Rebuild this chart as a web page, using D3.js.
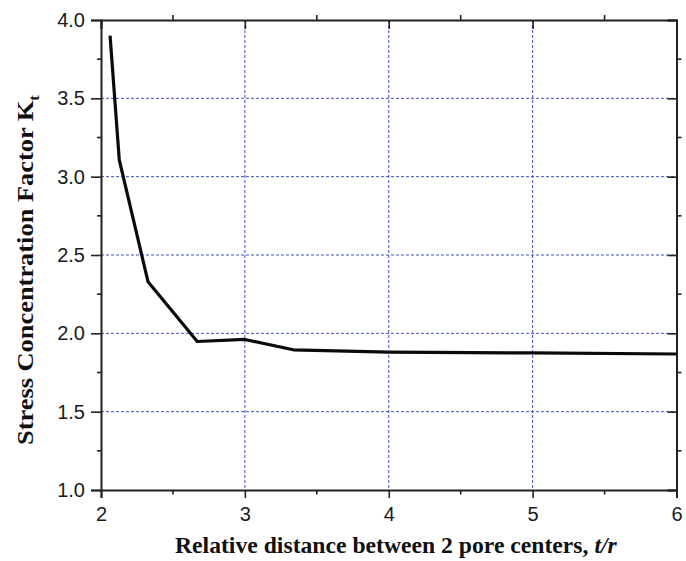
<!DOCTYPE html>
<html>
<head>
<meta charset="utf-8">
<script src="https://cdn.jsdelivr.net/npm/d3@7/dist/d3.min.js"></script>
<style>
  body { margin: 0; background: #fff; }
  svg { display: block; }
</style>
</head>
<body>
<svg id="chart" width="686" height="561"></svg>
<script>
// Stress concentration factor vs. relative pore spacing
const ratioTR = [2.063, 2.127, 2.327, 2.669, 3.0, 3.336, 4.0, 5.0, 6.0];
const factorKt = [3.90, 3.107, 2.329, 1.948, 1.961, 1.895, 1.880, 1.875, 1.868];
const xTicks = [2, 3, 4, 5, 6];
const yTicks = [1.0, 1.5, 2.0, 2.5, 3.0, 3.5, 4.0];

const svg = d3.select("#chart");
const m = { left: 101, right: 676.5, top: 20, bottom: 490 };

const x = d3.scaleLinear().domain([2, 6]).range([m.left, m.right]);
const y = d3.scaleLinear().domain([1, 4]).range([m.bottom, m.top]);

const gridColor = "#3d4fc4";
const axisColor = "#222";

// dashed grid at interior major ticks
svg.append("g").selectAll("line.gx")
  .data(xTicks.filter(d => d > 2 && d < 6)).join("line")
  .attr("x1", d => x(d)).attr("x2", d => x(d))
  .attr("y1", m.top).attr("y2", m.bottom)
  .attr("stroke", gridColor).attr("stroke-width", 1)
  .attr("stroke-dasharray", "3,2");
svg.append("g").selectAll("line.gy")
  .data(yTicks.filter(d => d > 1 && d < 4)).join("line")
  .attr("x1", m.left).attr("x2", m.right)
  .attr("y1", d => y(d)).attr("y2", d => y(d))
  .attr("stroke", gridColor).attr("stroke-width", 1)
  .attr("stroke-dasharray", "3,2");

const xMinor = d3.range(2.5, 6, 1);
const yMinor = d3.range(1.25, 4, 0.5);

// bottom axis: outward ticks
const axB = svg.append("g").attr("transform", `translate(0,${m.bottom})`)
  .call(d3.axisBottom(x).tickValues(xTicks).tickFormat(d3.format("d"))
    .tickSize(8).tickPadding(9));
axB.append("g").selectAll("line").data(xMinor).join("line")
  .attr("x1", d => x(d)).attr("x2", d => x(d)).attr("y1", 0).attr("y2", 4.5);

// left axis: outward ticks
const axL = svg.append("g").attr("transform", `translate(${m.left},0)`)
  .call(d3.axisLeft(y).tickValues(yTicks).tickFormat(d3.format(".1f"))
    .tickSize(10).tickPadding(6));
axL.append("g").selectAll("line").data(yMinor).join("line")
  .attr("x1", 0).attr("x2", -4).attr("y1", d => y(d)).attr("y2", d => y(d));

// top axis: major ticks inward, minor outward
const axT = svg.append("g").attr("transform", `translate(0,${m.top})`)
  .call(d3.axisTop(x).tickValues(xTicks).tickFormat("").tickSize(-9));
axT.append("g").selectAll("line").data(xMinor).join("line")
  .attr("x1", d => x(d)).attr("x2", d => x(d)).attr("y1", 0).attr("y2", -5);

// right axis: major ticks inward, minor outward
const axR = svg.append("g").attr("transform", `translate(${m.right},0)`)
  .call(d3.axisRight(y).tickValues(yTicks).tickFormat("").tickSize(-9));
axR.append("g").selectAll("line").data(yMinor).join("line")
  .attr("x1", 0).attr("x2", 5).attr("y1", d => y(d)).attr("y2", d => y(d));

svg.selectAll(".domain").attr("stroke", axisColor).attr("stroke-width", 2);
svg.selectAll("g line").filter(function () { return !this.getAttribute("stroke-dasharray"); })
  .attr("stroke", axisColor).attr("stroke-width", 1.6);
svg.selectAll(".tick text")
  .attr("font-family", "Liberation Sans, Arial, sans-serif")
  .attr("font-size", 20).attr("fill", "#1a1a1a");

// data curve
svg.append("path")
  .datum(ratioTR.map((v, i) => [v, factorKt[i]]))
  .attr("fill", "none").attr("stroke", "#0a0a0a").attr("stroke-width", 3.2)
  .attr("stroke-linejoin", "round")
  .attr("d", d3.line().x(d => x(d[0])).y(d => y(d[1])));

// axis titles: bold serif, widened along the reading direction
function fitWidth(sel, target) {
  const w = sel.node().getBBox().width;
  return target / w;
}

const xt = svg.append("text")
  .attr("font-family", "Liberation Serif, Times New Roman, serif")
  .attr("font-weight", "bold").attr("font-size", 23).attr("fill", "#111");
xt.append("tspan").text("Relative distance between 2 pore centers, ");
xt.append("tspan").attr("font-style", "italic").text("t/r");
const sx = fitWidth(xt, 443);
xt.attr("transform", `translate(175,553) scale(${sx},1)`);

const yt = svg.append("text")
  .attr("font-family", "Liberation Serif, Times New Roman, serif")
  .attr("font-weight", "bold").attr("font-size", 24).attr("fill", "#111");
yt.append("tspan").text("Stress Concentration Factor K");
yt.append("tspan").attr("font-size", 15).attr("dy", 6).text("t");
const sy = fitWidth(yt, 350);
yt.attr("transform", `translate(33,445) rotate(-90) scale(${sy},1)`);
</script>
</body>
</html>
